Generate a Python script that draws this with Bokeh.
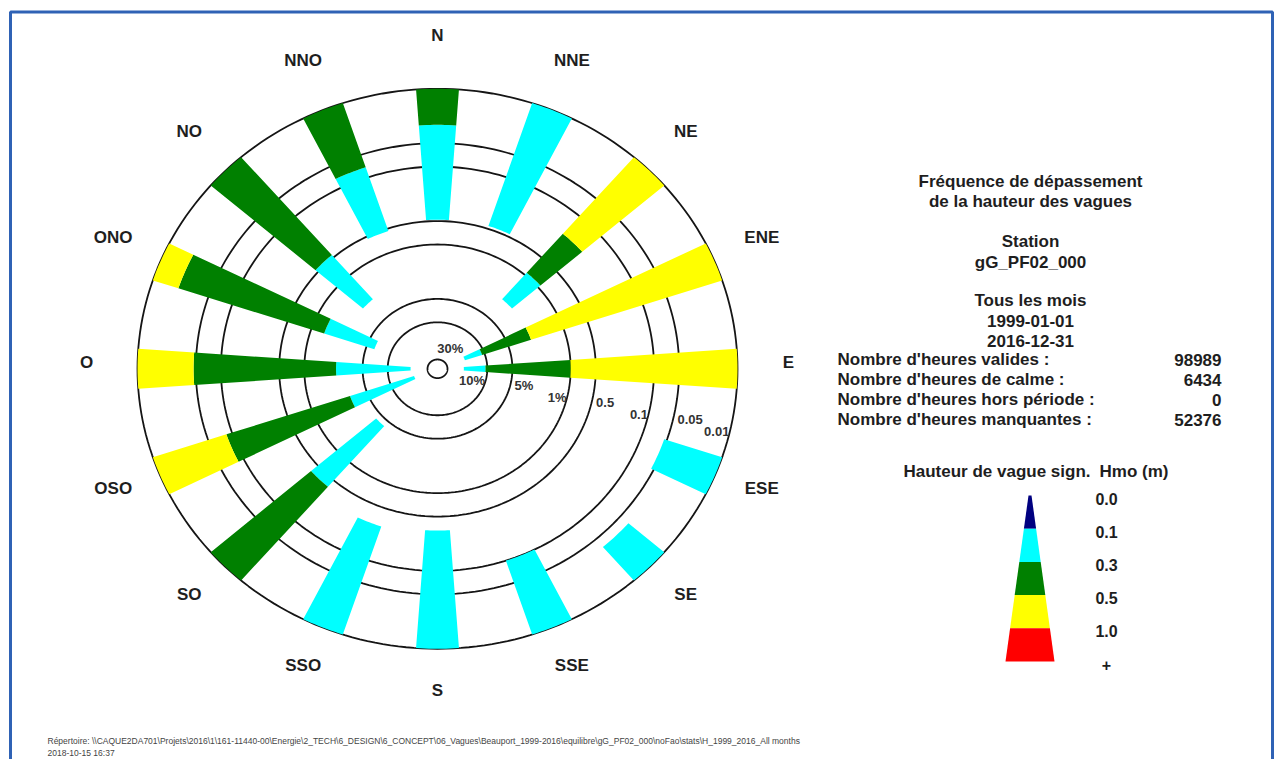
import math
from bokeh.plotting import figure
from bokeh.models import Range1d, ColumnDataSource
from bokeh.core.properties import value
from bokeh.embed import file_html
from bokeh.resources import INLINE

# ---------------------------------------------------------------- data
directions = ["N", "NNE", "NE", "ENE", "E", "ESE", "SE", "SSE",
              "S", "SSO", "SO", "OSO", "O", "ONO", "NO", "NNO"]

# Exceedance frequency (%) of Hmo by direction, per threshold.
# 0 means below the 0.01 % ring (segment runs to the edge of the rose).
exc_01 = [0.48, 0.46, 2.6, 17.8, 19.1, 0.054, 0.037, 0.10,
          0.33, 0.29, 4.2, 20.0, 18.8, 6.3, 2.6, 0.54]
exc_03 = [0.029, 0, 0.92, 10.8, 10.5, 0, 0, 0,
          0, 0, 0.39, 3.1, 2.4, 1.46, 0.46, 0.074]
exc_05 = [0, 0, 0.20, 2.6, 1.0, 0, 0, 0,
          0, 0, 0, 0.085, 0.047, 0.021, 0, 0]
exc_10 = [0, 0, 0, 0, 0, 0, 0, 0,
          0, 0, 0, 0, 0, 0, 0, 0]

ring_levels = [30, 10, 5, 1, 0.5, 0.1, 0.05, 0.01]
ring_labels = ["30%", "10%", "5%", "1%", "0.5", "0.1", "0.05", "0.01"]

class_bounds = ["0.0", "0.1", "0.3", "0.5", "1.0", "+"]
class_colors = ["#000080", "#00ffff", "#008000", "#ffff00", "#ff0000"]

title_lines = ["Fréquence de dépassement", "de la hauteur des vagues",
               "Station", "gG_PF02_000",
               "Tous les mois", "1999-01-01", "2016-12-31"]
stats_labels = ["Nombre d'heures valides :", "Nombre d'heures de calme :",
                "Nombre d'heures hors période :", "Nombre d'heures manquantes :"]
stats_values = ["98989", "6434", "0", "52376"]

footer_lines = [
    r"Répertoire: \\CAQUE2DA701\Projets\2016\1\161-11440-00\Energie\2_TECH\6_DESIGN\6_CONCEPT\06_Vagues\Beauport_1999-2016\equilibre\gG_PF02_000\noFao\stats\H_1999_2016_All months",
    "2018-10-15 16:37",
]

# ---------------------------------------------------------------- layout
W, H = 1274, 759
CX, CY = 437.0, 368.3          # page position of the rose centre
KY = 280.0 / 300.0             # vertical pixels per radial unit
R_IN, R_OUT = 10.0, 300.0      # radii of the 30 % and 0.01 % rings
P_IN, P_OUT = 30.0, 0.01
HALF_W = math.radians(4.1)     # half angular width of a bar

FONT = value("Liberation Sans")
INK = "#1e1e1e"
PANEL_SIZE = "17px"


def px(x):
    return x - CX


def py(y):
    return (CY - y) / KY


def rad(p):
    """Log radial scale: 30 % at the centre ring, 0.01 % at the edge."""
    if p <= 0:
        return R_OUT
    r = R_IN + (R_OUT - R_IN) * (math.log10(P_IN) - math.log10(p)) / (
        math.log10(P_IN) - math.log10(P_OUT))
    return max(0.0, min(R_OUT, r))


def sector(theta, r0, r1, n=10):
    a = [theta - HALF_W + 2 * HALF_W * k / n for k in range(n + 1)]
    xs = [r1 * math.sin(t) for t in a] + [r0 * math.sin(t) for t in reversed(a)]
    ys = [r1 * math.cos(t) for t in a] + [r0 * math.cos(t) for t in reversed(a)]
    return xs, ys


p = figure(width=W, height=H,
           x_range=Range1d(px(0), px(W)), y_range=Range1d(py(H), py(0)),
           output_backend="svg", toolbar_location=None,
           x_axis_type=None, y_axis_type=None, min_border=0,
           outline_line_color=None, background_fill_color="white",
           border_fill_color="white")

# frame
p.quad(left=px(10), right=px(1272), top=py(11.5), bottom=py(790),
       fill_color=None, line_color="#2f62b5", line_width=3)

# rings
ring_xs, ring_ys = [], []
for lev in ring_levels:
    r = rad(lev)
    t = [2 * math.pi * k / 240 for k in range(241)]
    ring_xs.append([r * math.sin(a) for a in t])
    ring_ys.append([r * math.cos(a) for a in t])
p.multi_line(ring_xs, ring_ys, line_color="#151515", line_width=1.8)

# exceedance bars
seg_colors = class_colors[1:]
bounds = [exc_01, exc_03, exc_05, exc_10]
bx, by, bc = [], [], []
for i, d in enumerate(directions):
    theta = math.radians(22.5 * i)
    for k in range(4):
        r0 = rad(bounds[k][i])
        r1 = rad(bounds[k + 1][i]) if k < 3 else R_OUT
        if r1 > r0:
            xs, ys = sector(theta, r0, r1)
            bx.append(xs)
            by.append(ys)
            bc.append(seg_colors[k])
p.patches(bx, by, fill_color=bc, line_color=None)

# direction labels
R_LAB = 351.0
dl = ColumnDataSource(dict(
    x=[R_LAB * math.sin(math.radians(22.5 * i)) for i in range(16)],
    y=[R_LAB * math.cos(math.radians(22.5 * i)) + 6 / KY for i in range(16)],
    t=directions))
p.text("x", "y", text="t", source=dl, text_font=FONT, text_font_style="bold",
       text_font_size="17px", text_color=INK, text_align="center",
       text_baseline="middle")

# ring labels along a ray slightly below east
lab_a = math.radians(102.5)
rx, ry, rt, ra = [], [], [], []
for j, (lev, lab) in enumerate(zip(ring_levels, ring_labels)):
    r = rad(lev)
    if j == 0:
        a = math.radians(31)
        rx.append((r + 15) * math.sin(a))
        ry.append((r + 15) * math.cos(a))
        ra.append("center")
    elif j % 2 == 1:
        rx.append(r * math.sin(lab_a) - 1)
        ry.append(r * math.cos(lab_a) - 2 / KY)
        ra.append("right")
    else:
        rx.append(r * math.sin(lab_a) + 4)
        ry.append(r * math.cos(lab_a) - 2 / KY)
        ra.append("left")
    rt.append(lab)
p.text(rx, ry, text=rt, text_align=ra, text_baseline="middle",
       text_font=FONT, text_font_style="bold", text_font_size="13px",
       text_color="#333333")

# information panel
TX = 1030
title_y = [181, 201, 241, 262, 300, 320, 340]
p.text([px(TX)] * len(title_lines), [py(v) for v in title_y], text=title_lines,
       text_align="center", text_baseline="middle", text_font=FONT,
       text_font_style="bold", text_font_size=PANEL_SIZE, text_color=INK)

stats_y = [359, 379, 399, 419]
p.text([px(837)] * 4, [py(v) for v in stats_y], text=stats_labels,
       text_align="left", text_baseline="middle", text_font=FONT,
       text_font_style="bold", text_font_size=PANEL_SIZE, text_color=INK)
p.text([px(1221)] * 4, [py(v) for v in stats_y], text=stats_values,
       text_align="right", text_baseline="middle", text_font=FONT,
       text_font_style="bold", text_font_size=PANEL_SIZE, text_color=INK)

# legend: height classes
p.text([px(1090), px(1099)], [py(471), py(471)],
       text=["Hauteur de vague sign.", "Hmo (m)"], text_align=["right", "left"],
       text_baseline="middle", text_font=FONT, text_font_style="bold",
       text_font_size=PANEL_SIZE, text_color=INK)

LX, LTOP, LBOT, WTOP, WBOT = 1029.5, 495.0, 661.0, 3.0, 49.0
n = len(class_colors)
lx, ly = [], []
for k in range(n):
    y0 = LTOP + (LBOT - LTOP) * k / n
    y1 = LTOP + (LBOT - LTOP) * (k + 1) / n
    w0 = WTOP + (WBOT - WTOP) * k / n
    w1 = WTOP + (WBOT - WTOP) * (k + 1) / n
    lx.append([px(LX - w0 / 2), px(LX + w0 / 2), px(LX + w1 / 2), px(LX - w1 / 2)])
    ly.append([py(y0), py(y0), py(y1), py(y1)])
p.patches(lx, ly, fill_color=class_colors, line_color=None)

p.text([px(1106)] * len(class_bounds),
       [py(LTOP + (LBOT - LTOP) * k / n + 3) for k in range(len(class_bounds))],
       text=class_bounds, text_align="center", text_baseline="middle",
       text_font=FONT, text_font_style="bold", text_font_size="16px",
       text_color=INK)

# footer
p.text([px(47), px(47)], [py(740.5), py(752)], text=footer_lines,
       text_align="left", text_baseline="middle", text_font=FONT,
       text_font_size="8.5px", text_color="#444444")

open("out.html", "w").write(file_html(p, INLINE))
